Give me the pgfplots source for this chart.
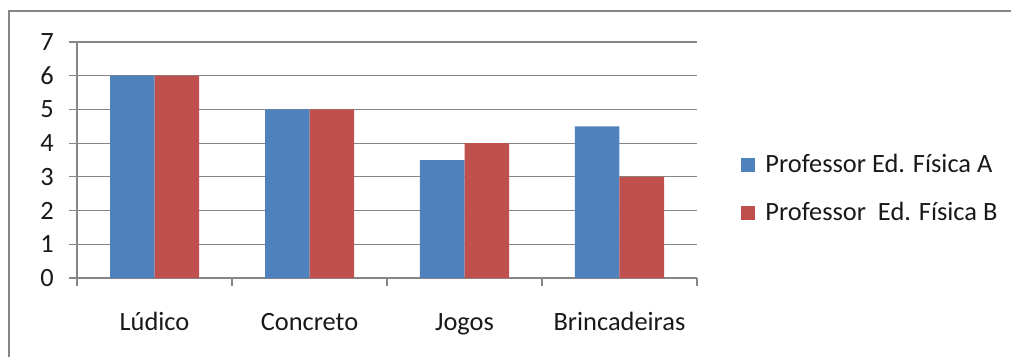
\documentclass[border=0pt]{standalone}
\usepackage{fontspec}
\setmainfont{Carlito}
\usepackage{pgfplots}
\pgfplotsset{compat=1.18}
\definecolor{serA}{RGB}{79,129,189}
\definecolor{serB}{RGB}{192,80,77}
\definecolor{linegray}{RGB}{134,134,134}
\definecolor{txt}{RGB}{25,25,25}

\begin{document}
\fontsize{13.2bp}{15bp}\selectfont
\begin{tikzpicture}
\useasboundingbox (0,0) rectangle (505.5bp,-178.5bp);
% chart frame (top and left edges)
\draw[linegray, line width=1bp] (4.5bp,-178.5bp) -- (4.5bp,-5.5bp) -- (505.5bp,-5.5bp);
\begin{axis}[
  at={(38.5bp,-139bp)}, anchor=south west,
  scale only axis, width=310bp, height=118bp,
  ymin=0, ymax=7, xmin=-0.5, xmax=3.5,
  axis lines*=left,
  axis line style={linegray, line width=0.7bp},
  ytick={0,...,7},
  ymajorgrids, grid style={linegray, line width=0.6bp},
  xtick={0,1,2,3},
  xticklabels={Lúdico,Concreto,Jogos,Brincadeiras},
  major x tick style={draw=none},
  minor xtick={-0.5,0.5,1.5,2.5,3.5},
  tick align=outside, major tick length=4bp, minor tick length=4bp,
  tick style={linegray, line width=0.6bp},
  /pgf/number format/assume math mode=true,
  ticklabel style={font=\fontsize{13.2bp}{15bp}\selectfont, text=txt},
  yticklabel style={xshift=-3bp},
  xticklabel style={anchor=base, yshift=-22bp},
  ybar=0pt, bar width=22.25bp,
  legend image code/.code={\fill[#1] (0bp,-3.5bp) rectangle (7bp,3.5bp);},
  legend style={at={(1.071,0.377)}, anchor=west, draw=none, fill=none,
    inner sep=0pt, row sep=9bp, font=\fontsize{13.2bp}{15bp}\selectfont,
    text=txt, /tikz/every odd column/.append style={column sep=3bp}},
  legend cell align=left,
]
\addplot[fill=serA, draw=none] coordinates {(0,6) (1,5) (2,3.5) (3,4.5)};
\addplot[fill=serB, draw=none] coordinates {(0,6) (1,5) (2,4) (3,3)};
\legend{Professor Ed. Física A, Professor\ \ Ed. Física B}
\end{axis}
\end{tikzpicture}
\end{document}
